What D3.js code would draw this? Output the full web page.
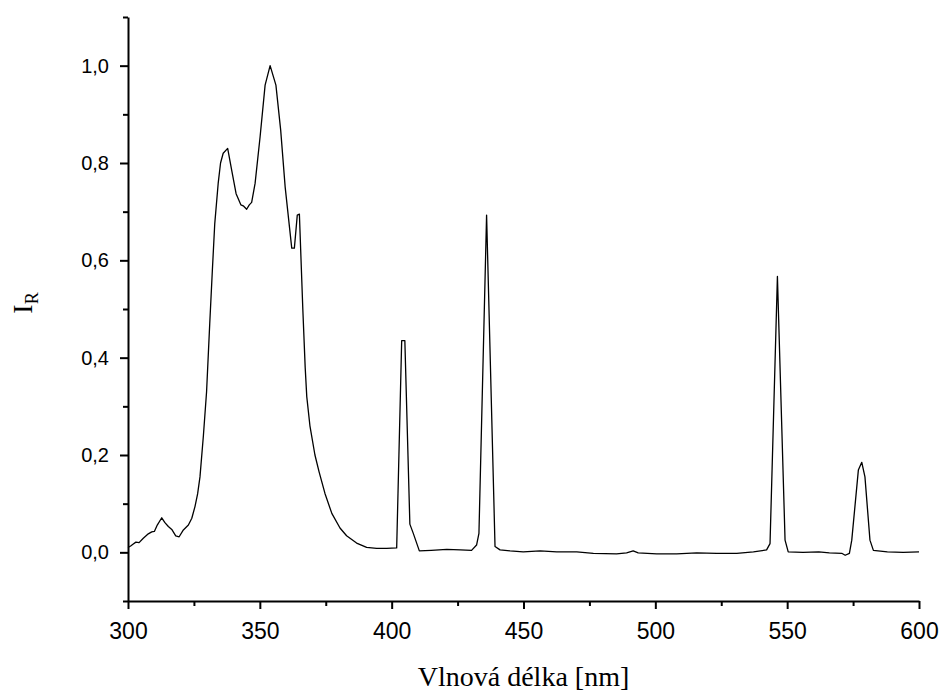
<!DOCTYPE html>
<html>
<head>
<meta charset="utf-8">
<script src="https://cdn.jsdelivr.net/npm/d3@7"></script>
<style>
  html, body { margin: 0; padding: 0; background: #fff; }
  svg { display: block; }
</style>
</head>
<body>
<svg id="chart" width="941" height="691"></svg>
<script>
// ---- data ----
const wavelength = [300.0,301,302,303,304.2,305.8,307.7,309,310,311.1,312.8,314,315.3,316.6,318.1,319.4,321,322.9,324.2,325.4,326.4,327.3,328.6,329.8,331,332,332.9,334.2,335.1,336.1,337.8,339.3,341,342.8,343.7,345,346,346.9,348.2,350.1,352,353.9,356.1,357.9,359.6,362.1,363.1,364.2,365,366.3,367.2,367.8,369,370.9,372.5,374.7,377.3,380.4,382.9,386.7,390.5,394.3,398.1,401.9,403.8,405.0,406.9,408.2,410.5,415,420.9,426,430.3,432.2,433.1,436,439.2,441.1,444.9,449.9,456.3,462.6,470.2,476.5,485.3,489.1,491.6,493.5,500.5,508.1,515.7,523.3,530.9,537.2,542.2,543.5,546.3,549.2,550.4,556,562,566,570.7,572,573.6,574.5,577,578.3,579.5,581.4,582.7,588,594,600];
const intensity = [0.010,0.013,0.017,0.021,0.020,0.029,0.038,0.042,0.043,0.056,0.071,0.061,0.053,0.047,0.034,0.032,0.046,0.056,0.070,0.094,0.120,0.155,0.240,0.330,0.470,0.580,0.675,0.758,0.800,0.820,0.830,0.786,0.737,0.714,0.712,0.705,0.714,0.719,0.758,0.854,0.960,1.000,0.960,0.868,0.751,0.625,0.625,0.693,0.695,0.500,0.380,0.320,0.260,0.200,0.165,0.121,0.080,0.050,0.034,0.019,0.010,0.008,0.008,0.009,0.435,0.435,0.058,0.039,0.003,0.004,0.006,0.005,0.004,0.015,0.039,0.693,0.012,0.005,0.003,0.001,0.003,0.001,0.001,-0.002,-0.003,-0.001,0.003,-0.001,-0.003,-0.003,-0.001,-0.002,-0.002,0.001,0.005,0.018,0.567,0.025,0.001,0.000,0.001,-0.001,-0.002,-0.006,-0.002,0.025,0.169,0.185,0.155,0.025,0.004,0.001,0.000,0.001];
const xMajorTicks = [300,350,400,450,500,550,600];
const xMinorTicks = [325,375,425,475,525,575];
const yMajorTicks = [0.0,0.2,0.4,0.6,0.8,1.0];
const yMinorTicks = [-0.1,0.1,0.3,0.5,0.7,0.9,1.1];
const xTitle = "Vlnová délka [nm]";
const yTitleMain = "I";
const yTitleSub = "R";

// ---- layout ----
const svg = d3.select("#chart");
const mLeft = 128, mRight = 919, mTop = 17, mBottom = 601;

const x = d3.scaleLinear().domain([300, 600]).range([mLeft, mRight]);
const y = d3.scaleLinear().domain([-0.1, 1.1]).range([mBottom, mTop]);

const fmt = d => d3.format(".1f")(d).replace(".", ",");

// minor ticks
svg.append("g")
  .attr("transform", `translate(0,${mBottom})`)
  .call(d3.axisBottom(x).tickValues(xMinorTicks).tickSize(5).tickSizeOuter(0).tickFormat(""))
  .call(g => g.select(".domain").remove())
  .call(g => g.selectAll("line").attr("stroke", "#000").attr("stroke-width", 2));
svg.append("g")
  .attr("transform", `translate(${mLeft},0)`)
  .call(d3.axisLeft(y).tickValues(yMinorTicks).tickSize(5).tickSizeOuter(0).tickFormat(""))
  .call(g => g.select(".domain").remove())
  .call(g => g.selectAll("line").attr("stroke", "#000").attr("stroke-width", 2));

// major axes
svg.append("g")
  .attr("transform", `translate(0,${mBottom})`)
  .call(d3.axisBottom(x).tickValues(xMajorTicks).tickSize(8).tickSizeOuter(0).tickPadding(14).tickFormat(d3.format("d")))
  .call(g => g.select(".domain").attr("stroke", "#000").attr("stroke-width", 2))
  .call(g => g.selectAll("line").attr("stroke", "#000").attr("stroke-width", 2))
  .call(g => g.selectAll("text").attr("fill", "#000")
      .style("font-family", "'Liberation Sans', Arial, sans-serif").style("font-size", "23px"));

svg.append("g")
  .attr("transform", `translate(${mLeft},0)`)
  .call(d3.axisLeft(y).tickValues(yMajorTicks).tickSize(8).tickSizeOuter(0).tickPadding(11).tickFormat(fmt))
  .call(g => g.select(".domain").attr("stroke", "#000").attr("stroke-width", 2))
  .call(g => g.selectAll("line").attr("stroke", "#000").attr("stroke-width", 2))
  .call(g => g.selectAll("text").attr("fill", "#000")
      .style("font-family", "'Liberation Sans', Arial, sans-serif").style("font-size", "20px"));

// line
const pts = wavelength.map((w, i) => [w, intensity[i]]);
const line = d3.line().x(d => x(d[0])).y(d => y(d[1]));
svg.append("path")
  .datum(pts)
  .attr("d", line)
  .attr("fill", "none")
  .attr("stroke", "#000")
  .attr("stroke-width", 1.3)
  .attr("stroke-linejoin", "round");

// titles
svg.append("text")
  .attr("x", (mLeft + mRight) / 2)
  .attr("y", 686)
  .attr("text-anchor", "middle")
  .style("font-family", "'Liberation Serif', 'Times New Roman', serif")
  .style("font-size", "28px")
  .attr("fill", "#000")
  .text(xTitle);

const yt = svg.append("text")
  .attr("transform", "translate(32,303) rotate(-90)")
  .attr("text-anchor", "middle")
  .style("font-family", "'Liberation Serif', 'Times New Roman', serif")
  .style("font-size", "28px")
  .attr("fill", "#000");
yt.append("tspan").text(yTitleMain);
yt.append("tspan").attr("dy", 6).style("font-size", "18px").text(yTitleSub);
</script>
</body>
</html>
